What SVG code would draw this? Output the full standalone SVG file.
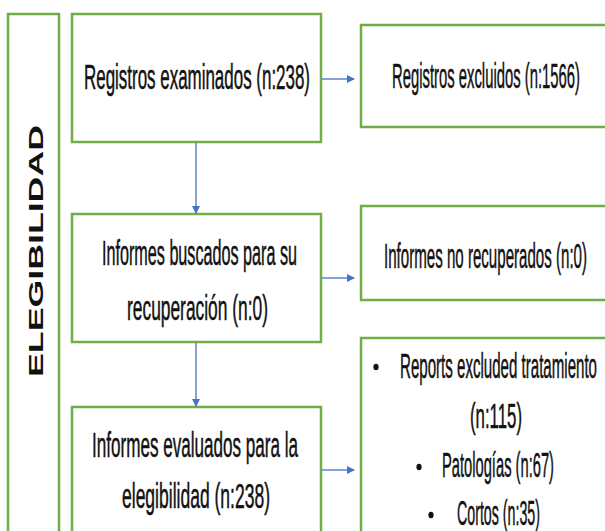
<svg xmlns="http://www.w3.org/2000/svg" width="605" height="531" viewBox="0 0 605 531">
<style>
.box{fill:#fff;stroke:#70AD47;stroke-width:2.5}
.t{font-family:"Liberation Sans",Arial,sans-serif;font-size:13px;fill:#111;stroke:#111;stroke-width:0.4;vector-effect:non-scaling-stroke}
.c{stroke:#4472C4;stroke-width:1.3;fill:none;marker-end:url(#ah)}
.v{font-family:"Liberation Sans",Arial,sans-serif;font-weight:bold;font-size:21px;fill:#111}
.b{fill:#111}
</style>
<defs>
<marker id="ah" markerWidth="8" markerHeight="8" refX="7" refY="4" orient="auto" markerUnits="userSpaceOnUse">
<path d="M0,0 L8,4 L0,8 Z" fill="#4472C4"/>
</marker>
</defs>
<rect width="605" height="531" fill="#fff"/>
<g id="fase">
<path class="box" d="M8,531 V14 H59 V531" stroke="#8CC46A"/>
<text class="v" transform="translate(43,377) rotate(-90)" textLength="252" lengthAdjust="spacingAndGlyphs">ELEGIBILIDAD</text>
</g>
<g id="registros-examinados">
<rect class="box" x="72" y="14" width="249" height="128"/>
<text class="t" transform="translate(84,89) scale(1,2.75)" textLength="226" lengthAdjust="spacingAndGlyphs">Registros examinados (n:238)</text>
</g>
<g id="registros-excluidos">
<path class="box" d="M605,25 H361 V127 H605"/>
<text class="t" transform="translate(392,88) scale(1,2.75)" textLength="188" lengthAdjust="spacingAndGlyphs">Registros excluidos (n:1566)</text>
</g>
<g id="informes-buscados">
<rect class="box" x="72" y="214" width="249" height="128"/>
<text class="t" transform="translate(102,265) scale(1,2.75)" textLength="195" lengthAdjust="spacingAndGlyphs">Informes buscados para su</text>
<text class="t" transform="translate(127,320) scale(1,2.75)" textLength="141" lengthAdjust="spacingAndGlyphs">recuperación (n:0)</text>
</g>
<g id="informes-no-recuperados">
<path class="box" d="M605,206 H361 V300 H605"/>
<text class="t" transform="translate(384,268) scale(1,2.75)" textLength="203" lengthAdjust="spacingAndGlyphs">Informes no recuperados (n:0)</text>
</g>
<g id="informes-evaluados">
<path class="box" d="M72,531 V407 H321 V531"/>
<text class="t" transform="translate(92,457) scale(1,2.75)" textLength="206" lengthAdjust="spacingAndGlyphs">Informes evaluados para la</text>
<text class="t" transform="translate(122,508) scale(1,2.75)" textLength="148" lengthAdjust="spacingAndGlyphs">elegibilidad (n:238)</text>
</g>
<g id="informes-excluidos">
<path class="box" d="M605,338 H361 V531"/>
<ellipse class="b" cx="376" cy="367" rx="2.6" ry="3.3"/>
<text class="t" transform="translate(400,378) scale(1,2.75)" textLength="197" lengthAdjust="spacingAndGlyphs">Reports excluded tratamiento</text>
<text class="t" transform="translate(470,428) scale(1,2.75)" textLength="52" lengthAdjust="spacingAndGlyphs">(n:115)</text>
<ellipse class="b" cx="419" cy="467" rx="2.6" ry="3.3"/>
<text class="t" transform="translate(442,477) scale(1,2.75)" textLength="112" lengthAdjust="spacingAndGlyphs">Patologías (n:67)</text>
<ellipse class="b" cx="431" cy="515" rx="2.6" ry="3.3"/>
<text class="t" transform="translate(457,525) scale(1,2.75)" textLength="83" lengthAdjust="spacingAndGlyphs">Cortos (n:35)</text>
</g>
<g id="connectors">
<line class="c" x1="322" y1="79" x2="354" y2="79"/>
<line class="c" x1="322" y1="278" x2="354" y2="278"/>
<line class="c" x1="322" y1="470" x2="354" y2="470"/>
<line class="c" x1="196" y1="143" x2="196" y2="213"/>
<line class="c" x1="196" y1="343" x2="196" y2="406"/>
</g>
</svg>
